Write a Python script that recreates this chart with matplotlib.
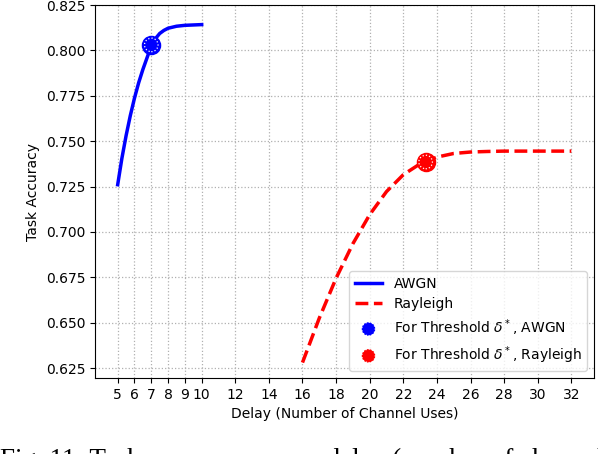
"""Task accuracy vs delay for AWGN and Rayleigh channels."""

import matplotlib.pyplot as plt

# AWGN curve
awgn_delay = [5, 5.25, 5.5, 5.75, 6, 6.25, 6.5, 6.75, 7, 7.25, 7.5, 7.75, 8, 8.5, 9, 10]
awgn_acc = [0.726, 0.7405, 0.7530, 0.7640, 0.7737, 0.7822, 0.7895, 0.7960,
            0.8025, 0.8065, 0.8093, 0.8110, 0.8122, 0.8133, 0.8138, 0.8142]

# Rayleigh curve
rayl_delay = [16, 17, 18, 19, 20, 21, 22, 23, 24, 25, 26, 27, 28, 30, 32]
rayl_acc = [0.628, 0.6525, 0.6745, 0.6935, 0.7095, 0.7222, 0.7315, 0.7375,
            0.7412, 0.7432, 0.7440, 0.7443, 0.7445, 0.7445, 0.7445]

# threshold points
thr_awgn = (7, 0.803)
thr_rayl = (23.33, 0.7385)

x_ticks = [5, 6, 7, 8, 9, 10, 12, 14, 16, 18, 20, 22, 24, 26, 28, 30, 32]
y_ticks = [0.625, 0.650, 0.675, 0.700, 0.725, 0.750, 0.775, 0.800, 0.825]

fig = plt.figure(figsize=(5.98, 4.54), dpi=100)
ax = fig.add_axes([95 / 598, 1 - 378 / 454, 499 / 598, 373 / 454])

ax.plot(awgn_delay, awgn_acc, "-", color="blue", linewidth=2.5, label="AWGN")
ax.plot(rayl_delay, rayl_acc, "--", color="red", linewidth=2.5, label="Rayleigh")

for (x, y), c, lab in [(thr_awgn, "blue", r"For Threshold $\delta^*$, AWGN"),
                       (thr_rayl, "red", r"For Threshold $\delta^*$, Rayleigh")]:
    ax.scatter([x], [y], s=170, color=c, zorder=3)
    ax.scatter([x], [y], s=95, color=c, edgecolors="white", linewidths=0.9,
               linestyles="dotted", zorder=4, label=lab)

ax.set_xticks(x_ticks)
ax.set_yticks(y_ticks)
ax.set_xlim(3.65, 33.35)
ax.set_ylim(0.6195, 0.825)
ax.grid(True, linestyle=":", color="#b0b0b0", linewidth=0.9)
ax.set_xlabel("Delay (Number of Channel Uses)")
ax.set_ylabel("Task Accuracy")
ax.legend(loc="lower right", fontsize=10, labelspacing=0.45)

# caption of the page, cut off at the bottom as in the source
fig.text(0.0, 1 - 447.5 / 454, "Fig. 11: Task accuracy versus delay (number of channel uses)",
         family="Liberation Serif", fontsize=19.5, ha="left", va="top")

fig.savefig("out.png", dpi=100)
